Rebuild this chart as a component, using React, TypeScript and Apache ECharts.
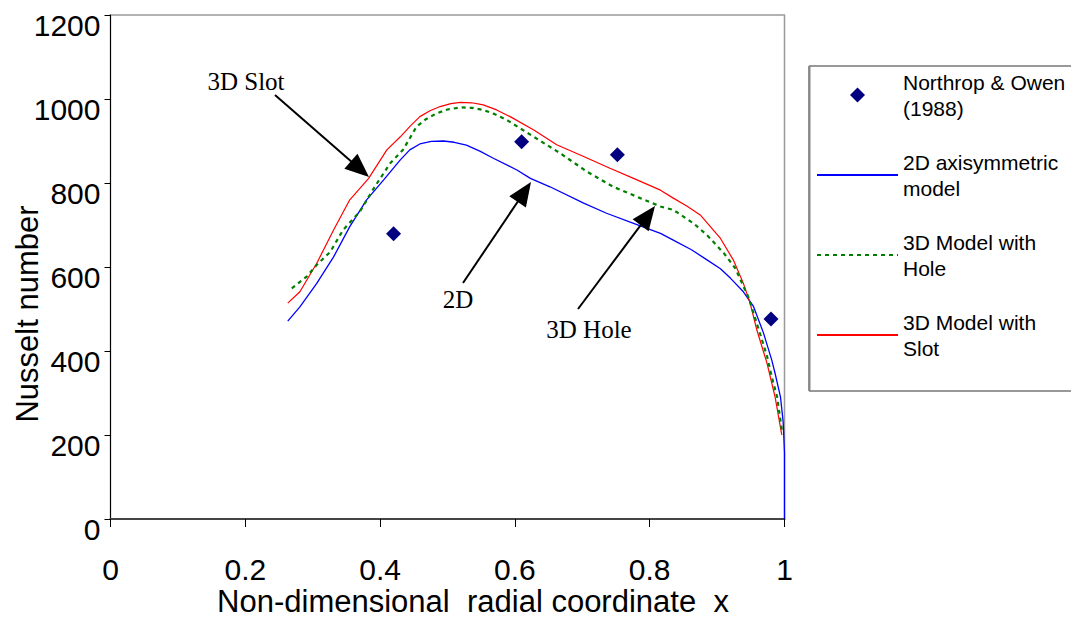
import React, { useEffect, useRef } from 'react';
import * as echarts from 'echarts';

// ---------- data ----------
const seriesNames = ['Northrop & Owen (1988)', '2D axisymmetric model', '3D Model with Hole', '3D Model with Slot'];
const legendLabels = ['Northrop & Owen\n(1988)', '2D axisymmetric\nmodel', '3D Model with\nHole', '3D Model with\nSlot'];

const xTicks = [0, 0.2, 0.4, 0.6, 0.8, 1];
const yTicks = [0, 200, 400, 600, 800, 1000, 1200];

const northropX = [0.42, 0.61, 0.752, 0.98];
const northropY = [679, 898, 867, 476];

const twoDX = [0.263, 0.281, 0.306, 0.331, 0.355, 0.38, 0.405, 0.43, 0.444, 0.459, 0.476, 0.494, 0.51, 0.528, 0.548, 0.568, 0.603, 0.623, 0.652, 0.702, 0.736, 0.776, 0.816, 0.835, 0.862, 0.885, 0.905, 0.92, 0.939, 0.954, 0.969, 0.981, 0.986, 0.994, 0.998, 1.0, 1.0];
const twoDY = [471, 505, 561, 624, 696, 760, 807, 855, 879, 893, 899, 900, 897, 890, 876, 859, 831, 811, 791, 752, 728, 704, 680, 664, 641, 617, 596, 573, 541, 506, 442, 379, 347, 291, 232, 157, 0];

const holeX = [0.269, 0.291, 0.306, 0.326, 0.345, 0.37, 0.392, 0.415, 0.434, 0.454, 0.468, 0.484, 0.5, 0.519, 0.536, 0.553, 0.57, 0.588, 0.628, 0.667, 0.707, 0.746, 0.786, 0.816, 0.835, 0.865, 0.885, 0.91, 0.927, 0.947, 0.962, 0.974, 0.981, 0.989, 0.996];
const holeY = [549, 577, 605, 636, 688, 732, 791, 847, 879, 934, 952, 966, 975, 980, 979, 974, 964, 950, 910, 871, 827, 791, 764, 744, 736, 704, 676, 633, 597, 526, 450, 388, 339, 291, 212];

const slotX = [0.263, 0.281, 0.306, 0.331, 0.355, 0.383, 0.41, 0.43, 0.445, 0.459, 0.474, 0.489, 0.505, 0.519, 0.536, 0.553, 0.573, 0.593, 0.628, 0.662, 0.702, 0.741, 0.776, 0.816, 0.835, 0.855, 0.875, 0.905, 0.924, 0.939, 0.949, 0.959, 0.974, 0.986, 0.996];
const slotY = [514, 541, 609, 688, 760, 811, 879, 910, 936, 958, 972, 982, 989, 992, 991, 986, 974, 958, 926, 891, 863, 835, 811, 783, 764, 745, 724, 668, 617, 561, 514, 450, 371, 291, 200];

const annotationTexts = ['3D Slot', '2D', '3D Hole'];

// ---------- layout (pixels) ----------
const annotationLayout = [
  { tx: 246, ty: 81, from: [275, 95], to: [369, 177] },
  { tx: 458, ty: 299, from: [463, 283], to: [531, 182] },
  { tx: 589, ty: 329, from: [578, 309], to: [655, 206] },
];

const zip = (xs: number[], ys: number[]) => xs.map((x, i) => [x, ys[i]]);

function arrow(from: number[], to: number[]) {
  const dx = to[0] - from[0];
  const dy = to[1] - from[1];
  const len = Math.sqrt(dx * dx + dy * dy);
  const ux = dx / len;
  const uy = dy / len;
  const headLen = 24;
  const halfW = 10;
  const bx = to[0] - ux * headLen;
  const by = to[1] - uy * headLen;
  const px = -uy * halfW;
  const py = ux * halfW;
  return [
    {
      type: 'line',
      shape: { x1: from[0], y1: from[1], x2: bx + ux * 2, y2: by + uy * 2 },
      style: { stroke: '#000', lineWidth: 2 },
      z: 10,
    },
    {
      type: 'polygon',
      shape: { points: [[to[0], to[1]], [bx + px, by + py], [bx - px, by - py]] },
      style: { fill: '#000' },
      z: 10,
    },
  ];
}

export default function App() {
  const ref = useRef<HTMLDivElement>(null);

  useEffect(() => {
    if (!ref.current) return;
    const chart = echarts.init(ref.current, null, { renderer: 'svg' });
    const font = '"Liberation Sans", Arial, sans-serif';
    const serif = '"Liberation Serif", "Times New Roman", serif';

    const graphics: any[] = [
      {
        type: 'rect',
        shape: { x: 809, y: 66, width: 320, height: 325 },
        style: { fill: 'none', stroke: '#333', lineWidth: 1 },
        silent: true,
      },
      {
        type: 'line',
        shape: { x1: 809.5, y1: 66, x2: 809.5, y2: 391 },
        style: { stroke: '#888', lineWidth: 2 },
        silent: true,
      },
      {
        type: 'text',
        x: 473,
        y: 601,
        style: {
          text: 'Non-dimensional  radial coordinate  x',
          font: `31px ${font}`,
          fill: '#000',
          textAlign: 'center',
          textVerticalAlign: 'middle',
        },
      },
      {
        type: 'text',
        x: 27,
        y: 314,
        rotation: Math.PI / 2,
        style: {
          text: 'Nusselt number',
          font: `31px ${font}`,
          fill: '#000',
          textAlign: 'center',
          textVerticalAlign: 'middle',
        },
      },
    ];
    annotationLayout.forEach((a, i) => {
      graphics.push({
        type: 'text',
        x: a.tx,
        y: a.ty,
        style: {
          text: annotationTexts[i],
          font: `25px ${serif}`,
          fill: '#000',
          textAlign: 'center',
          textVerticalAlign: 'middle',
        },
        z: 10,
      });
      graphics.push(...arrow(a.from, a.to));
    });

    const hiddenSymbol = { color: 'rgba(0,0,0,0)', borderWidth: 0, opacity: 0 };

    chart.setOption({
      animation: false,
      backgroundColor: '#fff',
      grid: {
        left: 110.5,
        top: 15,
        width: 674,
        height: 504,
        show: true,
        borderColor: '#999',
        borderWidth: 1.5,
        backgroundColor: 'transparent',
      },
      xAxis: {
        type: 'value',
        min: xTicks[0],
        max: xTicks[xTicks.length - 1],
        interval: xTicks[1] - xTicks[0],
        splitLine: { show: false },
        axisLine: { show: true, lineStyle: { color: '#444', width: 2 } },
        axisTick: { show: true, length: 8, lineStyle: { color: '#000', width: 1 } },
        axisLabel: {
          fontSize: 30,
          fontFamily: font,
          color: '#000',
          margin: 35,
          lineHeight: 30,
          formatter: (v: number) => String(v),
        },
      },
      yAxis: {
        type: 'value',
        min: yTicks[0],
        max: yTicks[yTicks.length - 1],
        interval: yTicks[1] - yTicks[0],
        splitLine: { show: false },
        axisLine: { show: true, lineStyle: { color: '#000', width: 1 } },
        axisTick: { show: true, length: 6, lineStyle: { color: '#000', width: 1 } },
        axisLabel: {
          fontSize: 30,
          fontFamily: font,
          color: '#000',
          margin: 10,
          verticalAlign: 'top',
          lineHeight: 20,
          formatter: (v: number) => String(v),
        },
      },
      legend: {
        orient: 'vertical',
        left: 816,
        top: 56,
        padding: 0,
        itemWidth: 81,
        itemHeight: 15,
        itemGap: 2,
        symbolKeepAspect: true,
        data: [
          { name: seriesNames[0], icon: 'path://M0,-1L1,0L0,1L-1,0Z', itemStyle: { color: '#000080', opacity: 1 } },
          { name: seriesNames[1], itemStyle: hiddenSymbol },
          { name: seriesNames[2], itemStyle: hiddenSymbol },
          { name: seriesNames[3], itemStyle: hiddenSymbol },
        ],
        formatter: (name: string) => legendLabels[seriesNames.indexOf(name)],
        textStyle: {
          fontSize: 21,
          fontFamily: font,
          color: '#000',
          lineHeight: 26,
          padding: [26, 0, 0, 0],
        },
        selectedMode: false,
      },
      graphic: graphics,
      series: [
        {
          name: seriesNames[1],
          type: 'line',
          data: zip(twoDX, twoDY),
          symbol: 'none',
          lineStyle: { color: '#0000ff', width: 1.3 },
          itemStyle: { color: '#0000ff' },
          z: 3,
        },
        {
          name: seriesNames[3],
          type: 'line',
          data: zip(slotX, slotY),
          symbol: 'none',
          lineStyle: { color: '#ff0000', width: 1.2 },
          itemStyle: { color: '#ff0000' },
          z: 3,
        },
        {
          name: seriesNames[2],
          type: 'line',
          data: zip(holeX, holeY),
          symbol: 'none',
          lineStyle: { color: '#008000', width: 2.2, type: [4, 4] },
          itemStyle: { color: '#008000' },
          z: 4,
        },
        {
          name: seriesNames[0],
          type: 'scatter',
          data: zip(northropX, northropY),
          symbol: 'diamond',
          symbolSize: 15,
          itemStyle: { color: '#000080', opacity: 1 },
          z: 5,
        },
      ],
    });
    return () => chart.dispose();
  }, []);

  return (
    <div
      ref={ref}
      style={{ position: 'absolute', left: 0, top: 0, width: 1071, height: 621 }}
    />
  );
}
